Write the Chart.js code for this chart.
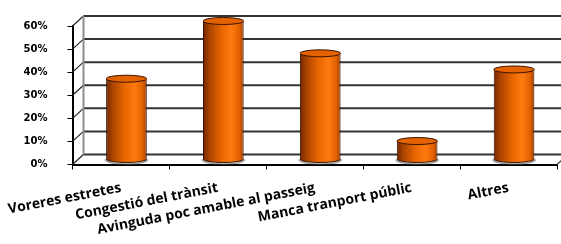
<!DOCTYPE html>
<html>
<head>
<meta charset="utf-8">
<title>Motius</title>
<script src="https://cdn.jsdelivr.net/npm/chart.js"></script>
<style>
  body { margin: 0; background: #fff; }
</style>
</head>
<body>
<canvas id="chart" width="561" height="244"></canvas>
<script>
const categories = ['Voreres estretes', 'Congestió del trànsit', 'Avinguda poc amable al passeig', 'Manca tranport públic', 'Altres'];
const percentages = [35, 60, 46, 8, 39];
const yMin = 0, yMax = 60, yStep = 10;

// 3d look: back wall is shifted by DX/DY, bars sit half way
const DX = 11, DY = -10;
const BAR_PCT = 0.42;
const RY = 3.5;

function barGradient(ctx, x0, x1) {
    const g = ctx.createLinearGradient(x0, 0, x1, 0);
    g.addColorStop(0, '#6e2800');
    g.addColorStop(0.15, '#a84200');
    g.addColorStop(0.45, '#e86600');
    g.addColorStop(0.7, '#ff7a10');
    g.addColorStop(0.9, '#e06000');
    g.addColorStop(1, '#9a3a00');
    return g;
}

const box3d = {
    id: 'box3d',
    beforeDatasetsDraw(chart) {
        const ctx = chart.ctx, a = chart.chartArea, y = chart.scales.y;
        ctx.save();
        // back wall gridlines + left wall diagonals
        for (let v = yMin; v <= yMax; v += yStep) {
            const yf = y.getPixelForValue(v);
            ctx.strokeStyle = '#333';
            ctx.lineWidth = 2;
            ctx.beginPath();
            ctx.moveTo(a.left + DX, yf + DY);
            ctx.lineTo(a.right + DX, yf + DY);
            ctx.stroke();
            ctx.lineWidth = 1.2;
            ctx.strokeStyle = '#222';
            ctx.beginPath();
            ctx.moveTo(a.left, yf);
            ctx.lineTo(a.left + DX, yf + DY);
            ctx.stroke();
        }
        // back wall left edge
        ctx.strokeStyle = '#8c8c8c';
        ctx.lineWidth = 2;
        ctx.beginPath();
        ctx.moveTo(a.left + DX, y.getPixelForValue(yMax) + DY);
        ctx.lineTo(a.left + DX, y.getPixelForValue(yMin) + DY);
        ctx.stroke();
        // floor right edge
        ctx.strokeStyle = '#444';
        ctx.lineWidth = 1.2;
        ctx.beginPath();
        ctx.moveTo(a.right, a.bottom);
        ctx.lineTo(a.right + DX, a.bottom + DY);
        ctx.stroke();
        ctx.restore();

        ctx.save();
        ctx.translate(DX / 2, DY / 2);
    },
    afterDatasetsDraw(chart) {
        const ctx = chart.ctx;
        chart.getDatasetMeta(0).data.forEach(bar => {
            const rx = bar.width / 2;
            // bottom half of the cylinder
            ctx.beginPath();
            ctx.ellipse(bar.x, bar.base + 0.5, rx + 1, RY + 1, 0, 0, Math.PI);
            ctx.strokeStyle = 'rgba(90,90,90,0.6)';
            ctx.lineWidth = 1.5;
            ctx.stroke();
            ctx.beginPath();
            ctx.ellipse(bar.x, bar.base, rx, RY, 0, 0, Math.PI);
            ctx.fillStyle = barGradient(ctx, bar.x - rx, bar.x + rx);
            ctx.fill();
            ctx.strokeStyle = '#3a1400';
            ctx.lineWidth = 1;
            ctx.stroke();
            // top cap
            ctx.beginPath();
            ctx.ellipse(bar.x, bar.y, rx, RY, 0, 0, Math.PI * 2);
            ctx.fillStyle = '#e46200';
            ctx.fill();
            ctx.strokeStyle = '#3a1400';
            ctx.stroke();
        });
        ctx.restore();
    }
};

const ctx = document.getElementById('chart').getContext('2d');
const chart = new Chart(ctx, {
    type: 'bar',
    data: {
        labels: categories,
        datasets: [{
            data: percentages,
            categoryPercentage: 1,
            barPercentage: BAR_PCT,
            clip: false,
            borderSkipped: false,
            borderWidth: {left: 1, right: 1, top: 0, bottom: 0},
            borderColor: '#3a1400',
            backgroundColor(c) {
                const x = c.chart.scales.x;
                if (!x || !c.chart.chartArea) return '#e86600';
                const cx = x.getPixelForValue(c.dataIndex);
                const w = x.width / categories.length * BAR_PCT / 2;
                return barGradient(c.chart.ctx, cx - w, cx + w);
            }
        }]
    },
    options: {
        responsive: false,
        animation: false,
        layout: { padding: { top: 20, right: 4, left: 0, bottom: 0 } },
        plugins: {
            legend: { display: false },
            tooltip: { enabled: false }
        },
        scales: {
            x: {
                afterFit(s) { s.height = 79.5; s.paddingLeft = 0; s.paddingRight = 0; },
                border: { color: '#000', width: 2 },
                grid: { drawOnChartArea: false, color: '#000', tickLength: 5 },
                ticks: {
                    autoSkip: false,
                    minRotation: 11, maxRotation: 11, padding: 10,
                    color: '#000',
                    font: { family: 'Open Sans', size: 14, weight: 'bold' }
                }
            },
            y: {
                min: yMin, max: yMax,
                afterFit(s) { s.width = 72.5; },
                border: { color: '#000', width: 2 },
                grid: { drawOnChartArea: false, color: '#000', tickLength: 5 },
                ticks: {
                    stepSize: yStep, padding: 20,
                    color: '#000',
                    font: { family: 'DejaVu Sans', size: 10, weight: 'bold' },
                    callback: v => v + '%'
                }
            }
        }
    },
    plugins: [box3d]
});
</script>
</body>
</html>
